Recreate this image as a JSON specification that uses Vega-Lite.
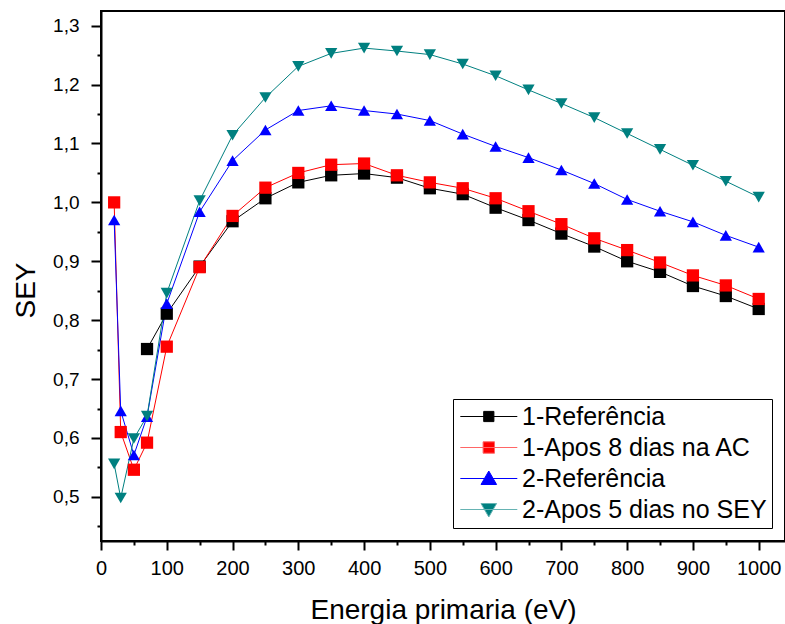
{
  "$schema": "https://vega.github.io/schema/vega-lite/v6.json",
  "width": 684,
  "height": 530,
  "autosize": {"type": "none"},
  "padding": {"left": 101, "top": 11, "right": 0, "bottom": 83},
  "config": {
    "view": {"stroke": "black", "strokeWidth": 2},
    "font": "Liberation Sans"
  },
  "data": {
    "values": [
      {"series": "1-Referência", "x": 70, "y": 0.751},
      {"series": "1-Referência", "x": 100, "y": 0.811},
      {"series": "1-Referência", "x": 150, "y": 0.891},
      {"series": "1-Referência", "x": 200, "y": 0.968},
      {"series": "1-Referência", "x": 250, "y": 1.007},
      {"series": "1-Referência", "x": 300, "y": 1.034},
      {"series": "1-Referência", "x": 350, "y": 1.046},
      {"series": "1-Referência", "x": 400, "y": 1.049},
      {"series": "1-Referência", "x": 450, "y": 1.042},
      {"series": "1-Referência", "x": 500, "y": 1.024},
      {"series": "1-Referência", "x": 550, "y": 1.014},
      {"series": "1-Referência", "x": 600, "y": 0.991},
      {"series": "1-Referência", "x": 650, "y": 0.970},
      {"series": "1-Referência", "x": 700, "y": 0.947},
      {"series": "1-Referência", "x": 750, "y": 0.925},
      {"series": "1-Referência", "x": 800, "y": 0.900},
      {"series": "1-Referência", "x": 850, "y": 0.882},
      {"series": "1-Referência", "x": 900, "y": 0.858},
      {"series": "1-Referência", "x": 950, "y": 0.841},
      {"series": "1-Referência", "x": 1000, "y": 0.819},
      {"series": "1-Apos 8 dias na AC", "x": 20, "y": 1.000},
      {"series": "1-Apos 8 dias na AC", "x": 30, "y": 0.610},
      {"series": "1-Apos 8 dias na AC", "x": 50, "y": 0.546},
      {"series": "1-Apos 8 dias na AC", "x": 70, "y": 0.592},
      {"series": "1-Apos 8 dias na AC", "x": 100, "y": 0.755},
      {"series": "1-Apos 8 dias na AC", "x": 150, "y": 0.890},
      {"series": "1-Apos 8 dias na AC", "x": 200, "y": 0.977},
      {"series": "1-Apos 8 dias na AC", "x": 250, "y": 1.025},
      {"series": "1-Apos 8 dias na AC", "x": 300, "y": 1.050},
      {"series": "1-Apos 8 dias na AC", "x": 350, "y": 1.064},
      {"series": "1-Apos 8 dias na AC", "x": 400, "y": 1.066},
      {"series": "1-Apos 8 dias na AC", "x": 450, "y": 1.046},
      {"series": "1-Apos 8 dias na AC", "x": 500, "y": 1.034},
      {"series": "1-Apos 8 dias na AC", "x": 550, "y": 1.024},
      {"series": "1-Apos 8 dias na AC", "x": 600, "y": 1.007},
      {"series": "1-Apos 8 dias na AC", "x": 650, "y": 0.985},
      {"series": "1-Apos 8 dias na AC", "x": 700, "y": 0.963},
      {"series": "1-Apos 8 dias na AC", "x": 750, "y": 0.939},
      {"series": "1-Apos 8 dias na AC", "x": 800, "y": 0.919},
      {"series": "1-Apos 8 dias na AC", "x": 850, "y": 0.898},
      {"series": "1-Apos 8 dias na AC", "x": 900, "y": 0.876},
      {"series": "1-Apos 8 dias na AC", "x": 950, "y": 0.859},
      {"series": "1-Apos 8 dias na AC", "x": 1000, "y": 0.836},
      {"series": "2-Referência", "x": 20, "y": 0.970},
      {"series": "2-Referência", "x": 30, "y": 0.646},
      {"series": "2-Referência", "x": 50, "y": 0.571},
      {"series": "2-Referência", "x": 70, "y": 0.636},
      {"series": "2-Referência", "x": 100, "y": 0.828},
      {"series": "2-Referência", "x": 150, "y": 0.984},
      {"series": "2-Referência", "x": 200, "y": 1.071},
      {"series": "2-Referência", "x": 250, "y": 1.123},
      {"series": "2-Referência", "x": 300, "y": 1.156},
      {"series": "2-Referência", "x": 350, "y": 1.164},
      {"series": "2-Referência", "x": 400, "y": 1.156},
      {"series": "2-Referência", "x": 450, "y": 1.150},
      {"series": "2-Referência", "x": 500, "y": 1.139},
      {"series": "2-Referência", "x": 550, "y": 1.116},
      {"series": "2-Referência", "x": 600, "y": 1.095},
      {"series": "2-Referência", "x": 650, "y": 1.076},
      {"series": "2-Referência", "x": 700, "y": 1.055},
      {"series": "2-Referência", "x": 750, "y": 1.032},
      {"series": "2-Referência", "x": 800, "y": 1.005},
      {"series": "2-Referência", "x": 850, "y": 0.985},
      {"series": "2-Referência", "x": 900, "y": 0.967},
      {"series": "2-Referência", "x": 950, "y": 0.944},
      {"series": "2-Referência", "x": 1000, "y": 0.924},
      {"series": "2-Apos 5 dias no SEY", "x": 20, "y": 0.556},
      {"series": "2-Apos 5 dias no SEY", "x": 30, "y": 0.498},
      {"series": "2-Apos 5 dias no SEY", "x": 50, "y": 0.599},
      {"series": "2-Apos 5 dias no SEY", "x": 70, "y": 0.637},
      {"series": "2-Apos 5 dias no SEY", "x": 100, "y": 0.846},
      {"series": "2-Apos 5 dias no SEY", "x": 150, "y": 1.003},
      {"series": "2-Apos 5 dias no SEY", "x": 200, "y": 1.114},
      {"series": "2-Apos 5 dias no SEY", "x": 250, "y": 1.178},
      {"series": "2-Apos 5 dias no SEY", "x": 300, "y": 1.231},
      {"series": "2-Apos 5 dias no SEY", "x": 350, "y": 1.253},
      {"series": "2-Apos 5 dias no SEY", "x": 400, "y": 1.262},
      {"series": "2-Apos 5 dias no SEY", "x": 450, "y": 1.257},
      {"series": "2-Apos 5 dias no SEY", "x": 500, "y": 1.251},
      {"series": "2-Apos 5 dias no SEY", "x": 550, "y": 1.235},
      {"series": "2-Apos 5 dias no SEY", "x": 600, "y": 1.215},
      {"series": "2-Apos 5 dias no SEY", "x": 650, "y": 1.191},
      {"series": "2-Apos 5 dias no SEY", "x": 700, "y": 1.168},
      {"series": "2-Apos 5 dias no SEY", "x": 750, "y": 1.144},
      {"series": "2-Apos 5 dias no SEY", "x": 800, "y": 1.117},
      {"series": "2-Apos 5 dias no SEY", "x": 850, "y": 1.090},
      {"series": "2-Apos 5 dias no SEY", "x": 900, "y": 1.063},
      {"series": "2-Apos 5 dias no SEY", "x": 950, "y": 1.036},
      {"series": "2-Apos 5 dias no SEY", "x": 1000, "y": 1.009}
    ]
  },
  "encoding": {
    "x": {
      "field": "x",
      "type": "quantitative",
      "scale": {"domain": [0, 1040], "nice": false, "zero": false},
      "axis": {
        "values": [0, 50, 100, 150, 200, 250, 300, 350, 400, 450, 500, 550, 600, 650, 700, 750, 800, 850, 900, 950, 1000],
        "labelExpr": "datum.value % 100 === 0 ? '' + datum.value : ''",
        "tickSize": {"condition": {"test": "datum.value % 100 === 0", "value": 9}, "value": 4},
        "tickWidth": 2,
        "tickColor": "black",
        "domainColor": "black",
        "domainWidth": 2,
        "grid": false,
        "labelFont": "Liberation Sans",
        "labelFontSize": 20,
        "labelColor": "black",
        "labelPadding": 8,
        "labelFlush": false,
        "labelOverlap": false,
        "title": "Energia primaria (eV)",
        "titleFont": "Liberation Sans",
        "titleFontSize": 28,
        "titleFontWeight": "normal",
        "titleColor": "black",
        "titleBaseline": "alphabetic",
        "titleY": 77
      }
    },
    "y": {
      "field": "y",
      "type": "quantitative",
      "scale": {"domain": [0.425, 1.325], "nice": false, "zero": false},
      "axis": {
        "values": [0.45, 0.5, 0.55, 0.6, 0.65, 0.7, 0.75, 0.8, 0.85, 0.9, 0.95, 1.0, 1.05, 1.1, 1.15, 1.2, 1.25, 1.3],
        "labelExpr": "abs(datum.value * 10 - round(datum.value * 10)) < 0.001 ? replace(format(datum.value, '.1f'), '.', ',') : ''",
        "tickSize": {"condition": {"test": "abs(datum.value * 10 - round(datum.value * 10)) < 0.001", "value": 10}, "value": 4},
        "tickWidth": 2,
        "tickColor": "black",
        "domainColor": "black",
        "domainWidth": 2,
        "grid": false,
        "labelFont": "Liberation Sans",
        "labelFontSize": 19,
        "labelColor": "black",
        "labelPadding": 12,
        "labelFlush": false,
        "labelOverlap": false,
        "title": "SEY",
        "titleFont": "Liberation Sans",
        "titleFontSize": 28,
        "titleFontWeight": "normal",
        "titleColor": "black",
        "titleAngle": 270,
        "titleAlign": "center",
        "titleBaseline": "alphabetic",
        "titleX": -67,
        "titleY": 279
      }
    }
  },
  "layer": [
    {
      "mark": {"type": "line", "strokeWidth": 1},
      "encoding": {
        "color": {
          "field": "series",
          "type": "nominal",
          "scale": {
            "domain": ["1-Referência", "1-Apos 8 dias na AC", "2-Referência", "2-Apos 5 dias no SEY"],
            "range": ["#000000", "#ff0000", "#0000ff", "#008080"]
          },
          "legend": null
        }
      }
    },
    {
      "mark": {"type": "point", "filled": true, "opacity": 1},
      "encoding": {
        "color": {
          "field": "series",
          "type": "nominal",
          "scale": {
            "domain": ["1-Referência", "1-Apos 8 dias na AC", "2-Referência", "2-Apos 5 dias no SEY"],
            "range": ["#000000", "#ff0000", "#0000ff", "#008080"]
          },
          "legend": null
        },
        "shape": {
          "field": "series",
          "type": "nominal",
          "scale": {
            "domain": ["1-Referência", "1-Apos 8 dias na AC", "2-Referência", "2-Apos 5 dias no SEY"],
            "range": ["square", "square", "triangle-up", "triangle-down"]
          },
          "legend": null
        },
        "size": {
          "field": "series",
          "type": "ordinal",
          "scale": {
            "domain": ["1-Referência", "1-Apos 8 dias na AC", "2-Referência", "2-Apos 5 dias no SEY"],
            "range": [150, 150, 250, 250]
          },
          "legend": null
        }
      }
    },
    {
      "transform": [{"filter": "datum.x < 0"}],
      "mark": {"type": "point", "filled": true, "opacity": 1, "strokeWidth": 1},
      "encoding": {
        "fill": {
          "field": "series",
          "type": "nominal",
          "scale": {
            "domain": ["1-Referência", "1-Apos 8 dias na AC", "2-Referência", "2-Apos 5 dias no SEY"],
            "range": ["#000000", "#ff0000", "#0000ff", "#008080"]
          },
          "legend": {
            "orient": "none",
            "legendX": 352,
            "legendY": 388,
            "title": null,
            "strokeColor": "black",
            "padding": 5,
            "labelFont": "Liberation Sans",
            "labelFontSize": 25,
            "labelColor": "black",
            "labelLimit": 500,
            "labelOffset": 39,
            "symbolSize": 144,
            "symbolStrokeWidth": 1,
            "symbolOpacity": 1,
            "rowPadding": 5
          }
        },
        "stroke": {
          "field": "series",
          "type": "nominal",
          "scale": {
            "domain": ["1-Referência", "1-Apos 8 dias na AC", "2-Referência", "2-Apos 5 dias no SEY"],
            "range": ["#000000", "#ff6666", "#0000ff", "#66b3b3"]
          },
          "legend": {
            "orient": "none",
            "legendX": 352,
            "legendY": 388,
            "title": null,
            "strokeColor": "black",
            "padding": 5,
            "labelFont": "Liberation Sans",
            "labelFontSize": 25,
            "labelColor": "black",
            "labelLimit": 500,
            "labelOffset": 39,
            "symbolSize": 144,
            "symbolStrokeWidth": 1,
            "symbolOpacity": 1,
            "rowPadding": 5
          }
        },
        "shape": {
          "field": "series",
          "type": "nominal",
          "scale": {
            "domain": ["1-Referência", "1-Apos 8 dias na AC", "2-Referência", "2-Apos 5 dias no SEY"],
            "range": [
              "M-1.7,0H7.8M2.2,-0.85H3.9V0.85H2.2Z",
              "M-1.7,0H7.8M2.1,-0.95H4.0V0.95H2.1Z",
              "M-1.7,0H7.8M3.05,-1.25L4.35,1.0H1.75Z",
              "M-1.7,0H7.8M1.75,-1.0H4.35L3.05,1.25Z"
            ]
          },
          "legend": {
            "orient": "none",
            "legendX": 352,
            "legendY": 388,
            "title": null,
            "strokeColor": "black",
            "padding": 5,
            "labelFont": "Liberation Sans",
            "labelFontSize": 25,
            "labelColor": "black",
            "labelLimit": 500,
            "labelOffset": 39,
            "symbolSize": 144,
            "symbolStrokeWidth": 1,
            "symbolOpacity": 1,
            "rowPadding": 5
          }
        }
      }
    }
  ],
  "resolve": {
    "scale": {"shape": "independent", "fill": "independent", "stroke": "independent"}
  }
}
